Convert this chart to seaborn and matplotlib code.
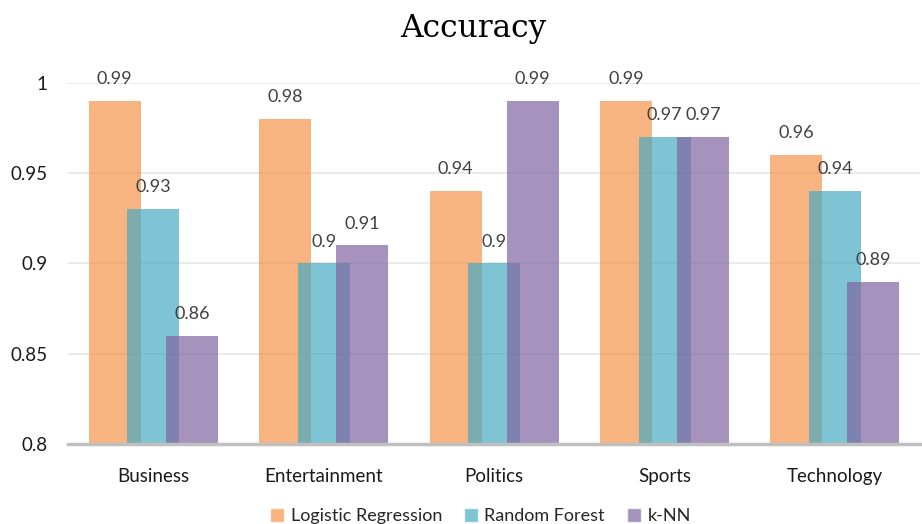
import matplotlib
matplotlib.use("Agg")
import matplotlib.pyplot as plt
import seaborn as sns
import pandas as pd
from matplotlib.ticker import FuncFormatter

categories = ["Business", "Entertainment", "Politics", "Sports", "Technology"]
models = ["Logistic Regression", "Random Forest", "k-NN"]
logistic_regression = [0.99, 0.98, 0.94, 0.99, 0.96]
random_forest = [0.93, 0.90, 0.90, 0.97, 0.94]
knn = [0.86, 0.91, 0.99, 0.97, 0.89]
y_ticks = [0.8, 0.85, 0.9, 0.95, 1.0]

df = pd.DataFrame({
    "Category": categories * 3,
    "Model": [m for m in models for _ in categories],
    "Accuracy": logistic_regression + random_forest + knn,
})

sns.set_theme(style="white")
plt.rcParams["font.family"] = ["Lato", "DejaVu Sans"]

palette = {"Logistic Regression": "#F5944A",
           "Random Forest": "#48ABC2",
           "k-NN": "#8065A2"}

fig = plt.figure(figsize=(9.22, 5.24), dpi=100)
ax = fig.add_axes([0.0738, 0.1527, 0.9242, 0.6889])

sns.barplot(data=df, x="Category", y="Accuracy", hue="Model",
            palette=palette, alpha=0.7, width=0.678, dodge=True,
            saturation=1, ax=ax, zorder=2)

# widen each bar around its own centre so neighbouring bars overlap
bar_w = 0.305
for p in ax.patches:
    if p.get_height() > 0:
        cx = p.get_x() + p.get_width() / 2
        p.set_x(cx - bar_w / 2)
        p.set_width(bar_w)
        p.set_linewidth(0)

for cont in ax.containers:
    ax.bar_label(cont, labels=[f"{v:g}" for v in cont.datavalues],
                 padding=10, fontsize=13, color="#404040")

ax.set_ylim(0.8, 1.0)
ax.set_xlim(-0.5, 4.5)
ax.set_yticks(y_ticks)
ax.yaxis.set_major_formatter(FuncFormatter(lambda v, _: f"{v:g}"))
ax.grid(axis="y", color="#E6E6E6", linewidth=1.2, zorder=0)
ax.set_axisbelow(True)
for s in ["left", "right", "top"]:
    ax.spines[s].set_visible(False)
ax.spines["bottom"].set_color("#BFBFBF")
ax.spines["bottom"].set_linewidth(2.5)
ax.spines["bottom"].set_zorder(3)
ax.tick_params(axis="both", length=0, labelsize=13.5, colors="#1a1a1a")
ax.tick_params(axis="x", pad=17)
ax.tick_params(axis="y", pad=15)
ax.set_xlabel("")
ax.set_ylabel("")

fig.text(0.513, 0.945, "Accuracy", ha="center", va="center",
         fontsize=22.5, family=["DejaVu Serif"], color="#000000")

handles, labels = ax.get_legend_handles_labels()
ax.legend(handles, labels, loc="center", bbox_to_anchor=(0.521, 0.015),
          bbox_transform=fig.transFigure, ncol=3, frameon=False,
          fontsize=13, handlelength=0.8, handleheight=0.8,
          handletextpad=0.35, columnspacing=1.2)

fig.savefig("out.png", dpi=100)
